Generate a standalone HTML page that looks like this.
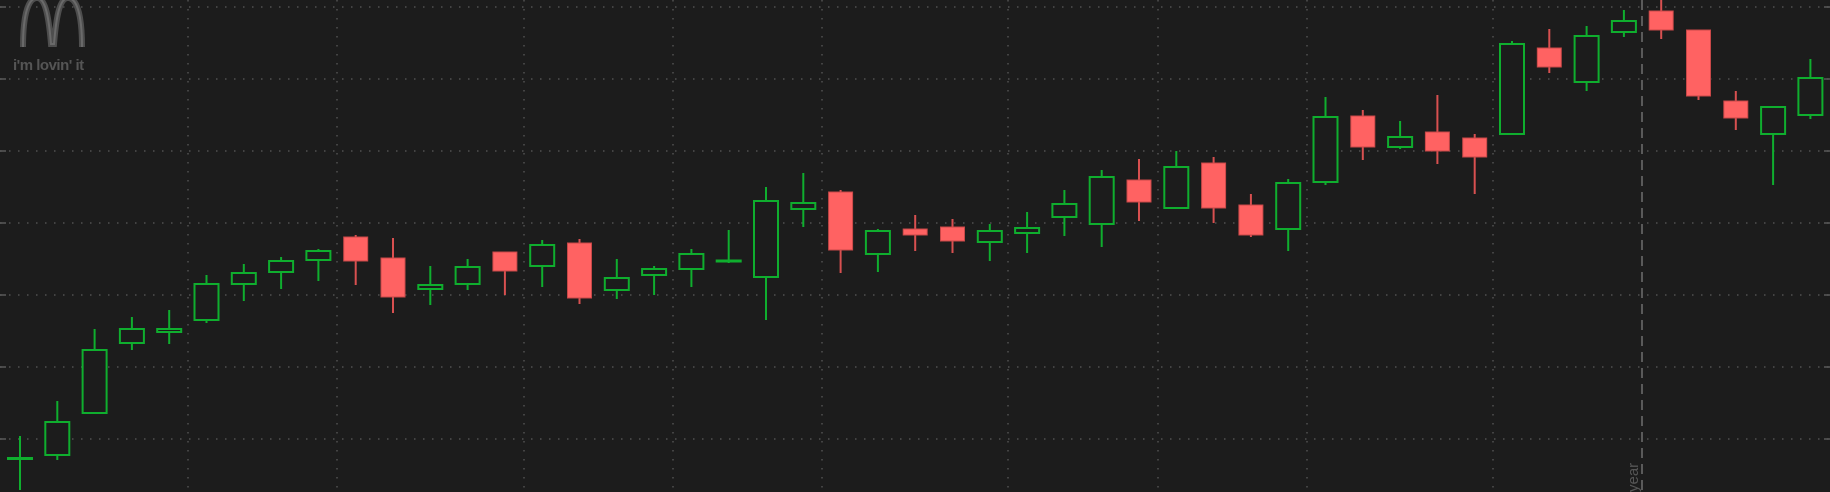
<!DOCTYPE html>
<html><head><meta charset="utf-8"><style>
html,body{margin:0;padding:0;background:#1c1c1c;}
svg{display:block;}
</style></head><body>
<svg id="chart" width="1830" height="492" xmlns="http://www.w3.org/2000/svg">
<rect width="1830" height="492" fill="#1c1c1c"/>
<g id="grid"></g>
<g id="logo">
<path d="M23 47 C23 12 29 -2 37 -2 C46 -2 49 20 51 44 L54 44 C56 20 59 -2 68 -2 C76 -2 82 12 82 47" fill="none" stroke="#4e4e4e" stroke-width="6"/>
<path d="M23 47 C23 12 29 -2 37 -2 C46 -2 49 20 51 44 L54 44 C56 20 59 -2 68 -2 C76 -2 82 12 82 47" fill="none" stroke="#6a6a6a" stroke-width="2"/>
<text x="13" y="70" font-family="Liberation Sans, sans-serif" font-size="15" font-weight="bold" fill="#555" letter-spacing="-0.5">i'm lovin' it</text>
</g>
<line x1="1642" y1="0" x2="1642" y2="492" stroke="#5a5a5a" stroke-width="2" stroke-dasharray="10,6"/>
<text transform="translate(1638,492) rotate(-90)" font-family="Liberation Sans, sans-serif" font-size="15" fill="#555">year</text>
<g id="candles"></g>
</svg>
<script>
const opens  = [42,45,87,157,168,180,216,228,240,263,242,211,216,248,234,257,210,225,231,239,223,291,308,246,271,273,258,267,283,276,320,292,337,295,271,318,384,353,368,362,366,452,418,468,489,470,399,366,385];
const highs  = [64,99,171,183,190,225,236,243,251,265,262,234,241,248,260,261,241,234,251,270,313,327,310,271,285,281,276,288,310,330,341,349,343,306,321,403,390,379,405,366,459,471,474,490,500,470,409,393,441];
const lows   = [10,40,87,150,156,177,199,211,219,215,187,195,210,205,213,196,201,205,213,237,180,273,227,228,249,247,239,247,264,253,279,291,277,263,249,315,340,351,336,306,366,427,409,463,461,400,370,315,381];
const closes = [42,78,150,171,171,216,227,239,249,239,203,215,233,229,255,202,222,231,246,239.5,299,297,250,269,265,259,269,272,296,323,298,333,292,265,317,383,353,363,349,343,456,433,464,479,470,404,382,393,422];
const gridPrices = [61,133,205,277,349,421,493];
const vGridIdx = [4.5,8.5,13.5,17.5,21.5,26.5,30.5,34.5,39.5];

const NS='http://www.w3.org/2000/svg';
function yS(p){return 500-p;}
function xS(i){return 20+i*37.3;}
const grid=document.getElementById('grid');
gridPrices.forEach(p=>{
  const y=yS(p);
  const l=document.createElementNS(NS,'line');
  
  
  l.setAttribute('x1',0);l.setAttribute('x2',1830);l.setAttribute('y1',y);l.setAttribute('y2',y);
  l.setAttribute('stroke','#505050');l.setAttribute('stroke-width','1.5');l.setAttribute('stroke-dasharray','1.5,7.5');
  grid.appendChild(l);
  [[0,6],[1824,1830]].forEach(([a,b])=>{
    const t=document.createElementNS(NS,'line');
    
    
    t.setAttribute('x1',a);t.setAttribute('x2',b);t.setAttribute('y1',y);t.setAttribute('y2',y);
    t.setAttribute('stroke','#5a5a5a');t.setAttribute('stroke-width','1.5');
    grid.appendChild(t);
  });
});
vGridIdx.forEach(i=>{
  const x=Math.round(xS(i));
  const l=document.createElementNS(NS,'line');
  
  
  l.setAttribute('x1',x);l.setAttribute('x2',x);l.setAttribute('y1',0);l.setAttribute('y2',492);
  l.setAttribute('stroke','#505050');l.setAttribute('stroke-width','1.5');l.setAttribute('stroke-dasharray','1.5,7.5');
  grid.appendChild(l);
});
const cg=document.getElementById('candles');
opens.forEach((o,i)=>{
  const c=closes[i],h=highs[i],lo=lows[i];
  const up=c>=o;
  const col=up?'#0fae2e':'#ff6262';
  const x=xS(i);
  const g=document.createElementNS(NS,'g');
  
  
  const w=document.createElementNS(NS,'line');
  
  
  w.setAttribute('x1',x);w.setAttribute('x2',x);w.setAttribute('y1',yS(h));w.setAttribute('y2',yS(lo));
  w.setAttribute('stroke',up?'#0fae2e':'#d85050');w.setAttribute('stroke-width','2');
  g.appendChild(w);
  const top=yS(Math.max(o,c)),bot=yS(Math.min(o,c));
  const r=document.createElementNS(NS,'rect');
  
  
  r.setAttribute('x',x-12);r.setAttribute('width',24);
  r.setAttribute('y',top);r.setAttribute('height',Math.max(bot-top,1));
  if(up){r.setAttribute('fill','#1c1c1c');r.setAttribute('stroke',col);r.setAttribute('stroke-width','2');}
  else{r.setAttribute('fill',col);r.setAttribute('stroke','#c84848');r.setAttribute('stroke-width','1');}
  g.appendChild(r);
  cg.appendChild(g);
});
</script>
</body></html>
